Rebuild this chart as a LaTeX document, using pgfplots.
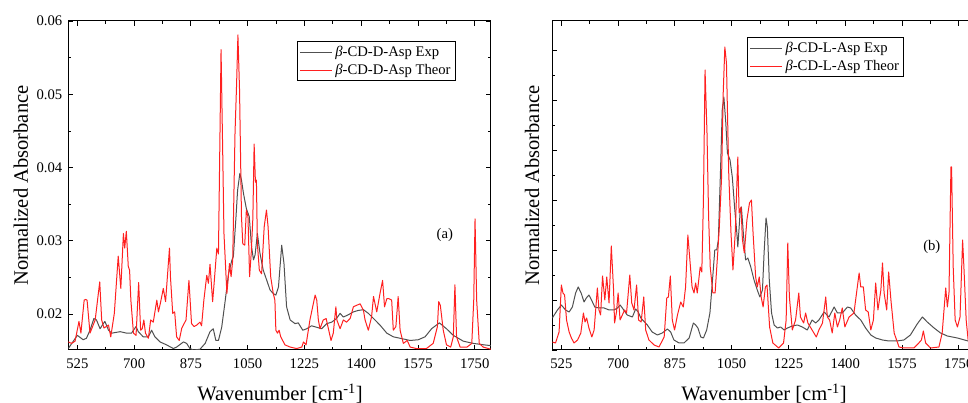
\documentclass[border=0pt]{standalone}
\usepackage{fontspec}
\setmainfont{Liberation Serif}
\usepackage{pgfplots}
\pgfplotsset{compat=1.18}
\definecolor{expgray}{HTML}{505050}
\definecolor{thred}{HTML}{FF2020}

\pgfplotstableread{
x y
497 0.0153
525 0.0171
543 0.0165
553 0.0167
564 0.0178
576 0.0194
584 0.0192
595 0.0180
605 0.0187
610 0.0190
621 0.0178
631 0.0174
657 0.0176
677 0.0174
692 0.0174
706 0.0183
713 0.0176
728 0.0169
744 0.0169
754 0.0178
764 0.0169
780 0.0162
800 0.0158
821 0.0153
831 0.0155
852 0.0162
862 0.0160
872 0.0153
883 0.0151
903 0.0152
919 0.0160
934 0.0176
944 0.0180
952 0.0164
960 0.0164
970 0.0182
981 0.0219
991 0.0255
1001 0.0273
1006 0.0279
1014 0.0332
1019 0.0369
1026 0.0392
1031 0.0383
1037 0.0365
1046 0.0344
1055 0.0333
1062 0.0292
1068 0.0274
1073 0.0281
1080 0.0310
1088 0.0283
1098 0.0260
1109 0.0246
1119 0.0233
1129 0.0228
1137 0.0226
1145 0.0237
1155 0.0294
1162 0.0269
1170 0.0210
1181 0.0192
1196 0.0187
1206 0.0188
1220 0.0178
1232 0.0180
1247 0.0184
1263 0.0182
1278 0.0180
1294 0.0187
1309 0.0189
1324 0.0194
1335 0.0201
1345 0.0196
1360 0.0199
1376 0.0203
1391 0.0205
1407 0.0206
1422 0.0201
1438 0.0194
1458 0.0185
1479 0.0174
1499 0.0169
1520 0.0167
1551 0.0164
1576 0.0165
1597 0.0169
1617 0.0180
1641 0.0188
1663 0.0180
1684 0.0171
1715 0.0163
1746 0.0160
1779 0.0158
1800 0.0157
}\expD

\pgfplotstableread{
x y
497 0.0162
507 0.0160
518 0.0163
530 0.0190
536 0.0174
546 0.0219
550 0.0220
555 0.0219
564 0.0174
580 0.0192
594 0.0244
600 0.0192
607 0.0181
621 0.0185
628 0.0169
639 0.0201
651 0.0279
659 0.0235
667 0.0310
671 0.0290
676 0.0313
682 0.0265
686 0.0260
690 0.0219
698 0.0174
706 0.0171
714 0.0243
720 0.0178
725 0.0180
730 0.0192
735 0.0174
744 0.0167
751 0.0192
759 0.0189
770 0.0219
775 0.0203
782 0.0217
790 0.0235
797 0.0217
809 0.0290
812 0.0251
819 0.0201
825 0.0203
831 0.0169
839 0.0164
847 0.0181
860 0.0192
869 0.0246
877 0.0187
885 0.0183
893 0.0185
903 0.0189
908 0.0184
915 0.0219
924 0.0253
929 0.0242
934 0.0268
942 0.0217
947 0.0244
955 0.0290
960 0.0282
968 0.0561
973 0.0424
977 0.0310
986 0.0228
994 0.0269
999 0.0251
1004 0.0274
1011 0.0446
1016 0.0515
1020 0.0581
1025 0.0506
1031 0.0333
1035 0.0296
1041 0.0294
1046 0.0342
1051 0.0333
1056 0.0251
1061 0.0283
1066 0.0330
1070 0.0432
1074 0.0380
1077 0.0383
1080 0.0296
1086 0.0260
1093 0.0255
1101 0.0319
1108 0.0342
1113 0.0319
1121 0.0251
1129 0.0228
1134 0.0219
1137 0.0178
1142 0.0174
1147 0.0178
1152 0.0169
1165 0.0158
1181 0.0155
1201 0.0153
1217 0.0155
1222 0.0162
1230 0.0158
1242 0.0192
1258 0.0226
1263 0.0219
1268 0.0192
1273 0.0180
1283 0.0192
1292 0.0194
1300 0.0178
1307 0.0164
1314 0.0174
1322 0.0210
1325 0.0192
1335 0.0180
1345 0.0192
1355 0.0189
1366 0.0194
1376 0.0210
1386 0.0212
1397 0.0214
1407 0.0205
1412 0.0192
1422 0.0178
1432 0.0196
1438 0.0224
1448 0.0203
1458 0.0228
1466 0.0246
1472 0.0210
1479 0.0221
1486 0.0221
1494 0.0219
1499 0.0178
1507 0.0183
1514 0.0224
1520 0.0178
1530 0.0160
1542 0.0164
1551 0.0155
1570 0.0153
1601 0.0153
1622 0.0160
1635 0.0183
1639 0.0217
1644 0.0212
1653 0.0178
1663 0.0158
1676 0.0155
1684 0.0169
1689 0.0240
1694 0.0169
1705 0.0155
1726 0.0155
1741 0.0160
1747 0.0219
1751 0.0330
1756 0.0219
1764 0.0160
1776 0.0155
1800 0.0152
}\thD

\pgfplotstableread{
x y
497 0.0182
513 0.0190
525 0.0195
538 0.0190
549 0.0188
559 0.0193
569 0.0207
577 0.0213
586 0.0207
595 0.0198
602 0.0202
610 0.0205
618 0.0200
628 0.0193
641 0.0192
657 0.0192
672 0.0190
687 0.0190
698 0.0192
706 0.0195
713 0.0192
728 0.0185
744 0.0183
754 0.0191
762 0.0188
770 0.0182
790 0.0175
805 0.0168
821 0.0165
836 0.0167
852 0.0171
862 0.0168
872 0.0160
888 0.0157
903 0.0157
919 0.0162
932 0.0177
939 0.0175
946 0.0172
955 0.0163
963 0.0162
973 0.0170
983 0.0187
991 0.0220
998 0.0250
1004 0.0250
1009 0.0260
1016 0.0333
1021 0.0390
1026 0.0403
1032 0.0377
1037 0.0347
1045 0.0340
1052 0.0323
1059 0.0293
1066 0.0267
1069 0.0253
1076 0.0287
1080 0.0293
1086 0.0267
1093 0.0240
1100 0.0242
1109 0.0233
1119 0.0220
1129 0.0210
1137 0.0203
1145 0.0210
1150 0.0247
1156 0.0282
1160 0.0273
1166 0.0220
1173 0.0187
1181 0.0175
1191 0.0172
1201 0.0173
1212 0.0170
1222 0.0172
1237 0.0174
1253 0.0175
1268 0.0173
1283 0.0170
1298 0.0180
1309 0.0177
1319 0.0180
1335 0.0188
1350 0.0183
1366 0.0193
1376 0.0187
1391 0.0187
1407 0.0193
1417 0.0192
1432 0.0185
1448 0.0180
1463 0.0172
1479 0.0165
1494 0.0162
1515 0.0160
1535 0.0159
1559 0.0159
1581 0.0160
1601 0.0165
1622 0.0176
1638 0.0183
1653 0.0178
1674 0.0172
1694 0.0167
1715 0.0164
1746 0.0162
1779 0.0159
1800 0.0158
}\expL

\pgfplotstableread{
x y
497 0.0158
507 0.0157
518 0.0168
525 0.0215
530 0.0207
535 0.0205
541 0.0180
549 0.0168
556 0.0162
564 0.0157
575 0.0160
585 0.0167
593 0.0187
598 0.0178
603 0.0182
610 0.0172
619 0.0163
626 0.0170
636 0.0212
641 0.0190
646 0.0185
652 0.0224
659 0.0200
665 0.0223
672 0.0197
679 0.0254
686 0.0210
689 0.0177
695 0.0188
700 0.0207
706 0.0180
713 0.0185
720 0.0190
726 0.0187
736 0.0225
742 0.0197
749 0.0190
757 0.0215
763 0.0180
771 0.0178
779 0.0203
785 0.0170
795 0.0160
811 0.0155
826 0.0153
842 0.0163
850 0.0202
855 0.0203
861 0.0224
867 0.0180
874 0.0170
883 0.0185
893 0.0198
901 0.0193
908 0.0213
915 0.0265
922 0.0237
928 0.0213
934 0.0207
939 0.0217
944 0.0207
953 0.0233
958 0.0228
963 0.0300
968 0.0430
974 0.0367
979 0.0283
984 0.0233
992 0.0207
999 0.0207
1007 0.0247
1012 0.0273
1019 0.0323
1024 0.0407
1029 0.0453
1034 0.0437
1041 0.0327
1048 0.0267
1054 0.0230
1061 0.0267
1069 0.0343
1073 0.0287
1079 0.0293
1083 0.0261
1089 0.0247
1097 0.0280
1105 0.0297
1111 0.0300
1116 0.0267
1124 0.0223
1129 0.0213
1135 0.0223
1141 0.0203
1147 0.0193
1154 0.0213
1159 0.0215
1167 0.0173
1177 0.0157
1195 0.0152
1210 0.0157
1218 0.0180
1223 0.0257
1228 0.0203
1237 0.0170
1247 0.0180
1257 0.0207
1262 0.0183
1272 0.0177
1278 0.0187
1285 0.0177
1298 0.0170
1311 0.0163
1319 0.0170
1330 0.0177
1340 0.0203
1345 0.0183
1352 0.0180
1360 0.0167
1368 0.0187
1376 0.0173
1383 0.0180
1391 0.0192
1399 0.0173
1412 0.0183
1427 0.0187
1435 0.0207
1443 0.0227
1448 0.0213
1456 0.0213
1463 0.0190
1471 0.0188
1479 0.0170
1487 0.0180
1494 0.0217
1501 0.0190
1510 0.0210
1515 0.0237
1520 0.0207
1528 0.0190
1534 0.0228
1541 0.0200
1551 0.0167
1566 0.0153
1581 0.0152
1612 0.0152
1627 0.0157
1635 0.0160
1641 0.0169
1648 0.0157
1663 0.0152
1689 0.0153
1699 0.0167
1710 0.0212
1715 0.0193
1720 0.0207
1726 0.0333
1728 0.0333
1733 0.0233
1739 0.0180
1746 0.0173
1754 0.0183
1762 0.0260
1766 0.0233
1773 0.0180
1779 0.0160
1800 0.0155
}\thL

\pgfplotsset{
  spec/.style={
    scale only axis, width=317pt, height=246.75pt,
    xmin=497, xmax=1800,
    xtick={525,700,875,1050,1225,1400,1575,1750},
    minor x tick num=1, minor y tick num=1,
    tick align=inside, xtick pos=both, ytick pos=both,
    major tick length=3.5pt, minor tick length=2pt,
    axis line style={black, line width=0.75pt},
    tick style={black, line width=0.6pt},
    /pgf/number format/assume math mode=true,
    /pgf/number format/1000 sep={},
    every tick label/.append style={font=\fontsize{11}{13}\selectfont},
    xticklabel style={yshift=-3pt},
    yticklabel style={xshift=-1pt},
    scaled y ticks=false,
    xlabel={Wavenumber [cm\textsuperscript{-1}]},
    ylabel={Normalized Absorbance},
    label style={font=\fontsize{15.4}{18}\selectfont},
    xlabel style={at={(axis description cs:0.501,-0.152)}, anchor=base},
    legend style={font=\fontsize{11}{14}\selectfont, draw=black, line width=0.75pt,
      anchor=north west, cells={anchor=west}, inner sep=1.5pt},
    legend image code/.code={\draw[#1, line width=0.75pt] (0cm,0cm) -- (0.85cm,0cm);},
  },
  expline/.style={expgray, line width=0.75pt, line join=round},
  thline/.style={thred, line width=0.75pt, line join=round},
}

\begin{document}
\begin{tikzpicture}
\begin{axis}[spec, at={(0pt,0pt)}, anchor=south west,
  ymin=0.0151, ymax=0.06,
  ytick={0.02,0.03,0.04,0.05,0.06},
  yticklabel style={/pgf/number format/fixed, /pgf/number format/precision=2,
    /pgf/number format/fixed zerofill},
  ylabel style={at={(axis description cs:-0.112,0.5)}, anchor=center},
  legend style={at={(0.541,0.939)}},
]
\addplot[expline] table {\expD};
\addlegendentry{\textit{β}-CD-D-Asp Exp}
\addplot[thline] table {\thD};
\addlegendentry{\textit{β}-CD-D-Asp Theor}
\node[font=\fontsize{11}{13}\selectfont] at (axis description cs:0.891,0.35) {(a)};
\end{axis}
\begin{axis}[spec, at={(363pt,0pt)}, anchor=south west,
  ymin=0.015, ymax=0.0479,
  ytick={0.015,0.02,0.025,0.03,0.035,0.04,0.045},
  yticklabels={},
  ylabel style={at={(axis description cs:-0.048,0.5)}, anchor=center},
  legend style={at={(0.461,0.951)}},
]
\addplot[expline] table {\expL};
\addlegendentry{\textit{β}-CD-L-Asp Exp}
\addplot[thline] table {\thL};
\addlegendentry{\textit{β}-CD-L-Asp Theor}
\node[font=\fontsize{11}{13}\selectfont] at (axis description cs:0.898,0.313) {(b)};
\end{axis}
\pgfresetboundingbox
\path[use as bounding box] (-51.2pt,-39.75pt) rectangle (674.8pt,262.5pt);
\end{tikzpicture}
\end{document}
